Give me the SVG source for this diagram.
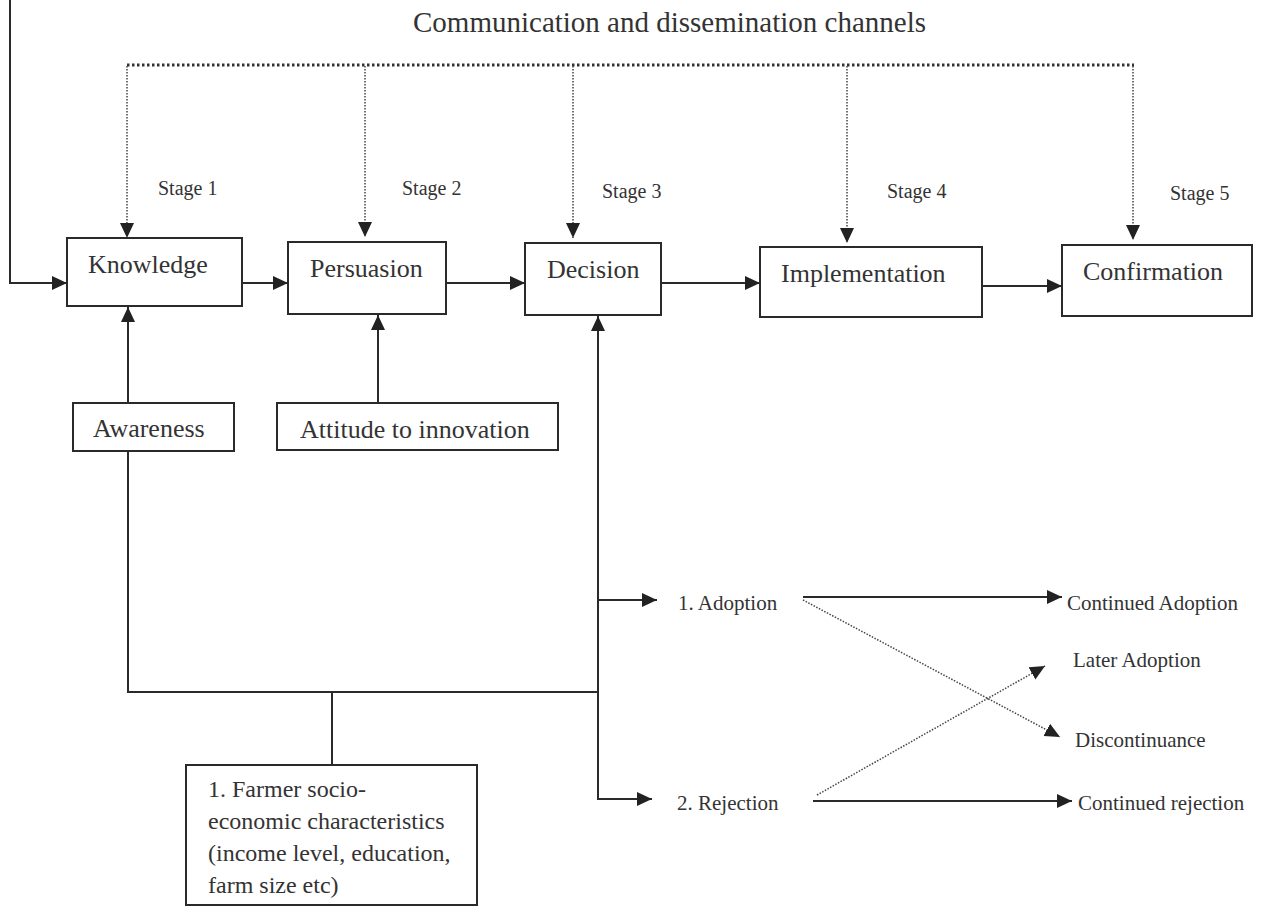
<svg xmlns="http://www.w3.org/2000/svg" width="1266" height="906" viewBox="0 0 1266 906">
<style>
.box{fill:#fff;stroke:#2a2a2a;stroke-width:2}
text{font-family:'Liberation Serif',Tinos,'Times New Roman',Times,'DejaVu Serif',serif;fill:#333}
.bt{font-size:26px}
.st{font-size:20px}
.sm{font-size:21px}
.ln{fill:none;stroke:#2a2a2a;stroke-width:2}
.dotH{fill:none;stroke:#333;stroke-width:3;stroke-dasharray:2.5 2.5}
.dotV{fill:none;stroke:#444;stroke-width:1.5;stroke-dasharray:1.5 1.5}
</style>
<defs>
<marker id="ah" markerUnits="userSpaceOnUse" markerWidth="16" markerHeight="16" refX="15" refY="7" orient="auto" viewBox="0 0 16 14">
<path d="M0,0 L15,7 L0,14 z" fill="#222"/>
</marker>
</defs>
<rect width="1266" height="906" fill="#fff"/>
<text x="413" y="32" font-size="29" font-family="Liberation Serif, serif">Communication and dissemination channels</text>

<g id="connectors">
<path class="ln" d="M10,0 V283 H67" marker-end="url(#ah)"/>
<path class="ln" d="M242,283 H288" marker-end="url(#ah)"/>
<path class="ln" d="M446,283 H525" marker-end="url(#ah)"/>
<path class="ln" d="M661,283 H760" marker-end="url(#ah)"/>
<path class="ln" d="M982,286 H1062" marker-end="url(#ah)"/>
<path class="ln" d="M128,403 V307" marker-end="url(#ah)"/>
<path class="ln" d="M378,403 V315" marker-end="url(#ah)"/>
<path class="ln" d="M128,451 V692 H598"/>
<path class="ln" d="M598,800 V316" marker-end="url(#ah)"/>
<path class="ln" d="M598,600 H657" marker-end="url(#ah)"/>
<path class="ln" d="M598,799 H652" marker-end="url(#ah)"/>
<path class="ln" d="M332,765 V692"/>
<path class="dotH" d="M127,65 H1134"/>
<path class="dotV" d="M127,66 V238" marker-end="url(#ah)"/>
<path class="dotV" d="M365,66 V237" marker-end="url(#ah)"/>
<path class="dotV" d="M573,66 V238" marker-end="url(#ah)"/>
<path class="dotV" d="M847,66 V243" marker-end="url(#ah)"/>
<path class="dotV" d="M1133,66 V240" marker-end="url(#ah)"/>
<path class="ln" d="M803,597 H1062" marker-end="url(#ah)"/>
<path class="ln" d="M813,801 H1072" marker-end="url(#ah)"/>
<path class="dotV" d="M803,600 L1060,737" marker-end="url(#ah)"/>
<path class="dotV" d="M817,795 L1045,666" marker-end="url(#ah)"/>
</g>

<g id="stage-labels">
<text class="st" x="158" y="195">Stage 1</text>
<text class="st" x="402" y="195">Stage 2</text>
<text class="st" x="602" y="198">Stage 3</text>
<text class="st" x="887" y="198">Stage 4</text>
<text class="st" x="1170" y="200">Stage 5</text>
</g>

<g id="knowledge"><rect class="box" x="67" y="238" width="175" height="68"/><text class="bt" x="88" y="273">Knowledge</text></g>
<g id="persuasion"><rect class="box" x="288" y="242" width="158" height="72"/><text class="bt" x="310" y="277">Persuasion</text></g>
<g id="decision"><rect class="box" x="525" y="243" width="136" height="72"/><text class="bt" x="547" y="278">Decision</text></g>
<g id="implementation"><rect class="box" x="760" y="247" width="222" height="70"/><text class="bt" x="781" y="282">Implementation</text></g>
<g id="confirmation"><rect class="box" x="1062" y="245" width="190" height="71"/><text class="bt" x="1083" y="280">Confirmation</text></g>
<g id="awareness"><rect class="box" x="73" y="403" width="161" height="48"/><text class="bt" x="93" y="437">Awareness</text></g>
<g id="attitude"><rect class="box" x="277" y="403" width="281" height="47"/><text class="bt" x="300" y="438">Attitude to innovation</text></g>
<g id="farmer"><rect class="box" x="186" y="765" width="291" height="140"/>
<text font-size="24" x="208"><tspan x="208" y="797">1. Farmer socio-</tspan><tspan x="208" y="829">economic characteristics</tspan><tspan x="208" y="861">(income level, education,</tspan><tspan x="208" y="893">farm size etc)</tspan></text></g>

<g id="adoption"><text class="sm" x="678" y="610">1. Adoption</text></g>
<g id="rejection"><text class="sm" x="677" y="810">2. Rejection</text></g>
<g id="continued-adoption"><text class="sm" x="1067" y="610">Continued Adoption</text></g>
<g id="later-adoption"><text class="sm" x="1073" y="667">Later Adoption</text></g>
<g id="discontinuance"><text class="sm" x="1075" y="747">Discontinuance</text></g>
<g id="continued-rejection"><text class="sm" x="1078" y="810">Continued rejection</text></g>
</svg>
